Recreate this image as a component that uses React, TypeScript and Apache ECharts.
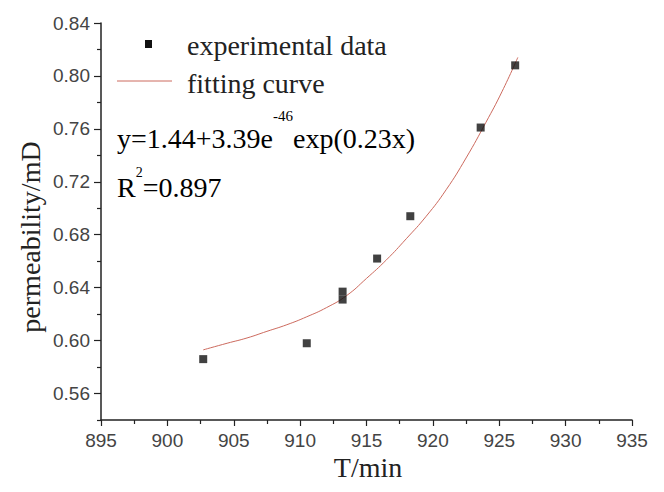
import React, { useEffect, useRef } from "react";
import * as echarts from "echarts";

// experimental data
const expT = [902.7, 910.5, 913.2, 913.2, 915.8, 918.3, 923.6, 926.2];
const expK = [0.586, 0.598, 0.637, 0.631, 0.662, 0.694, 0.761, 0.808];
// fitting curve
const fitT = [902.7, 904.5, 906, 907.5, 909, 910.5, 912, 913.5, 915, 916.5, 918, 919.5, 921, 922.5, 924, 925.2, 926.4];
const fitK = [0.593, 0.598, 0.602, 0.607, 0.612, 0.618, 0.625, 0.634, 0.647, 0.661, 0.677, 0.694, 0.714, 0.738, 0.765, 0.788, 0.814];
// axis ticks
const yMajor = [0.56, 0.6, 0.64, 0.68, 0.72, 0.76, 0.8, 0.84];
const yMinor = [0.54, 0.58, 0.62, 0.66, 0.7, 0.74, 0.78, 0.82];
const xMin = 895;
const xMax = 935;
const xStep = 5;
const yMin = 0.54;
const yMax = 0.84;

const legendItems = ["experimental data", "fitting curve"];
const eqMain = "y=1.44+3.39e";
const eqSup = "-46";
const eqTail = "exp(0.23x)";
const r2Main = "R";
const r2Sup = "2";
const r2Tail = "=0.897";
const xTitle = "T/min";
const yTitle = "permeability/mD";

const SERIF = "'Liberation Serif', 'Times New Roman', serif";
const SANS = "'Liberation Sans', Arial, sans-serif";
const CURVE = "#cc6a5e";

export default function App() {
  const ref = useRef<HTMLDivElement>(null);
  useEffect(() => {
    if (!ref.current) return;
    const chart = echarts.init(ref.current, null, { renderer: "svg" });
    const axisLine = { show: true, lineStyle: { color: "#222", width: 1.5 } };
    chart.setOption({
      animation: false,
      backgroundColor: "#fff",
      grid: { left: 101, top: 23, width: 531, height: 397, containLabel: false },
      xAxis: {
        type: "value",
        min: xMin,
        max: xMax,
        interval: xStep,
        axisLine: { ...axisLine, onZero: false },
        axisTick: { show: true, inside: false, length: 6, lineStyle: { color: "#222", width: 1.2 } },
        minorTick: { show: true, splitNumber: 2, length: 4, lineStyle: { color: "#222", width: 1.2 } },
        splitLine: { show: false },
        minorSplitLine: { show: false },
        axisLabel: { fontFamily: SANS, fontSize: 19, color: "#444", margin: 11 },
      },
      yAxis: [
        {
          type: "value",
          min: yMin,
          max: yMax,
          axisLine: { ...axisLine, onZero: false },
          axisTick: { show: true, length: 7, customValues: yMajor, lineStyle: { color: "#222", width: 1.2 } },
          axisLabel: {
            customValues: yMajor,
            fontFamily: SANS,
            fontSize: 19,
            color: "#444",
            margin: 11,
            formatter: (v: number) => v.toFixed(2),
          },
          splitLine: { show: false },
        },
        {
          type: "value",
          min: yMin,
          max: yMax,
          position: "left",
          axisLine: { show: false },
          axisTick: { show: true, length: 4, customValues: yMinor, lineStyle: { color: "#222", width: 1.2 } },
          axisLabel: { show: false },
          splitLine: { show: false },
        },
      ],
      series: [
        {
          name: legendItems[1],
          type: "line",
          data: fitT.map((t, i) => [t, fitK[i]]),
          smooth: 0.5,
          showSymbol: false,
          lineStyle: { color: CURVE, width: 1 },
          z: 2,
        },
        {
          name: legendItems[0],
          type: "scatter",
          data: expT.map((t, i) => [t, expK[i]]),
          symbol: "rect",
          symbolSize: 8,
          itemStyle: { color: "#111" },
          z: 3,
        },
      ],
      graphic: [
        { type: "rect", shape: { x: 145, y: 40, width: 7, height: 8 }, style: { fill: "#111" } },
        { type: "line", shape: { x1: 117, y1: 81, x2: 172, y2: 81 }, style: { stroke: CURVE, lineWidth: 1 } },
        {
          type: "text",
          x: 187,
          y: 45,
          style: { text: legendItems[0], font: `28px ${SERIF}`, fill: "#222", verticalAlign: "middle", align: "left" },
        },
        {
          type: "text",
          x: 187,
          y: 83,
          style: { text: legendItems[1], font: `28px ${SERIF}`, fill: "#222", verticalAlign: "middle", align: "left" },
        },
        {
          type: "text",
          x: 117,
          y: 138,
          style: {
            text: `{a|${eqMain}}{s|${eqSup}}{a|${eqTail}}`,
            verticalAlign: "middle",
            align: "left",
            rich: {
              a: { fontFamily: SERIF, fontSize: 28, color: "#222", lineHeight: 60 },
              s: { fontFamily: SERIF, fontSize: 15, color: "#222", lineHeight: 15, verticalAlign: "top" },
            },
          },
        },
        {
          type: "text",
          x: 117,
          y: 187,
          style: {
            text: `{a|${r2Main}}{s|${r2Sup}}{a|${r2Tail}}`,
            verticalAlign: "middle",
            align: "left",
            rich: {
              a: { fontFamily: SERIF, fontSize: 28, color: "#222", lineHeight: 44 },
              s: { fontFamily: SERIF, fontSize: 14, color: "#222", lineHeight: 14, verticalAlign: "top" },
            },
          },
        },
        {
          type: "text",
          x: 368,
          y: 467,
          style: { text: xTitle, font: `28px ${SERIF}`, fill: "#222", verticalAlign: "middle", align: "center" },
        },
        {
          type: "text",
          x: 30,
          y: 237,
          rotation: Math.PI / 2,
          style: { text: yTitle, font: `28px ${SERIF}`, fill: "#222", verticalAlign: "middle", align: "center" },
        },
      ],
    });
    return () => chart.dispose();
  }, []);
  return <div ref={ref} style={{ position: "fixed", left: 0, top: 0, width: 664, height: 492 }} />;
}
